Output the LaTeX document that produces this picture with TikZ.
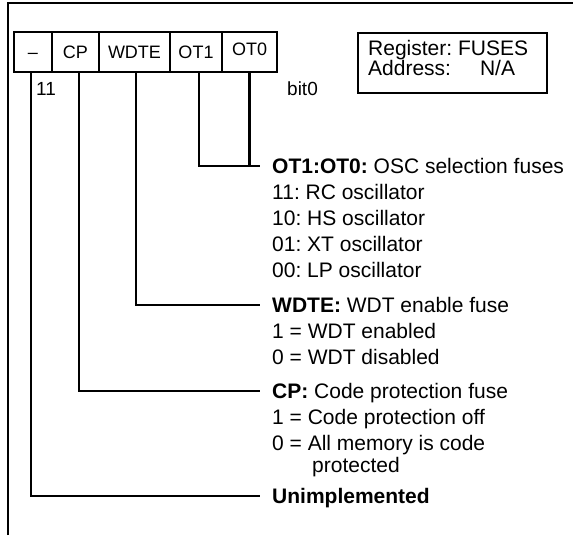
\documentclass[tikz,border=0pt]{standalone}
\usepackage{fontspec}
\setmainfont{Liberation Sans}
\usetikzlibrary{positioning}
\frenchspacing

\begin{document}
\begin{tikzpicture}[
    x=1pt, y=-1pt,
    bitcell/.style={
        draw,
        line width=2.2pt,
        outer sep=0pt,
        inner sep=0pt,
        minimum height=40pt,
        text height=12.9pt,
        text depth=0pt,
        font=\fontsize{18}{20}\selectfont
    },
    bitnum/.style={
        anchor=west,
        inner sep=0pt,
        font=\fontsize{19}{20}\selectfont
    },
    fuse_title/.style={
        anchor=west,
        inner xsep=12pt,
        inner ysep=0pt,
        text height=15pt,
        text depth=0pt,
        font=\fontsize{21}{26}\selectfont
    },
    fuse_text/.style={
        align=left,
        inner xsep=12pt,
        inner ysep=0pt,
        font=\fontsize{21}{26}\selectfont
    },
    fuse_line/.style={
        line width=2.2pt
    }
]
\useasboundingbox (0,0) rectangle (575,535);

% Page frame (top and left edge only)
\draw[line width=2.8pt] (8,535) |- (573,3);

% Register bits
\node[bitcell, minimum width=38pt, anchor=north west] (unimp) at (14,32) {\textendash};
\node[bitcell, minimum width=47pt, right=0pt of unimp] (cp) {CP};
\node[bitcell, minimum width=71pt, right=0pt of cp] (wdte) {WDTE};
\node[bitcell, minimum width=52pt, right=0pt of wdte] (ot1) {OT1};
\node[bitcell, minimum width=55pt, right=0pt of ot1] (ot0) {\raisebox{3pt}{OT0}};

\node[bitnum] (msb) at (36,89) {11};
\node[bitnum] (lsb) at (287,89) {bit0};

% Register info box
\node[draw, line width=2.2pt, minimum width=189pt, minimum height=60pt, anchor=north west] (infobox) at (357,32) {};
\node[align=left, inner sep=0pt, anchor=north west, font=\fontsize{21}{18}\selectfont] (infotext)
    at ([xshift=11pt, yshift=-8pt]infobox.north west) {Register: FUSES\\Address:\hspace{29pt}N/A};

% Descriptions
\node[fuse_title] (ot_title) at (260,166) {\textbf{OT1:OT0:} OSC selection fuses};
\node[fuse_text, below=10.8pt of ot_title.south west, anchor=north west] (ot_text) {
    11: RC oscillator\\
    10: HS oscillator\\
    01: XT oscillator\\
    00: LP oscillator
};

\node[fuse_title] (wdte_title) at (260,305) {\textbf{WDTE:} WDT enable fuse};
\node[fuse_text, below=10.8pt of wdte_title.south west, anchor=north west] (wdte_text) {
    1 = WDT enabled\\
    0 = WDT disabled
};

\node[fuse_title] (cp_title) at (260,391) {\textbf{CP:} Code protection fuse};
\node[fuse_text, below=10.8pt of cp_title.south west, anchor=north west] (cp_text) {
    1 = Code protection off\\
    0 = All memory is code\\[-4pt]
    \hspace*{40pt}protected
};

\node[fuse_title] (unimp_title) at (260,496) {\textbf{Unimplemented}};

% Connectors from bits to descriptions
\draw[fuse_line] ([xshift=3pt]ot1.south) |- (ot_title.west);
\draw[fuse_line] (ot0.south) |- (ot_title.west);
\draw[fuse_line] ([xshift=1.5pt]wdte.south) |- (wdte_title.west);
\draw[fuse_line] ([xshift=3.5pt]cp.south) |- (cp_title.west);
\draw[fuse_line] ([xshift=-2pt]unimp.south) |- (unimp_title.west);

\end{tikzpicture}
\end{document}
